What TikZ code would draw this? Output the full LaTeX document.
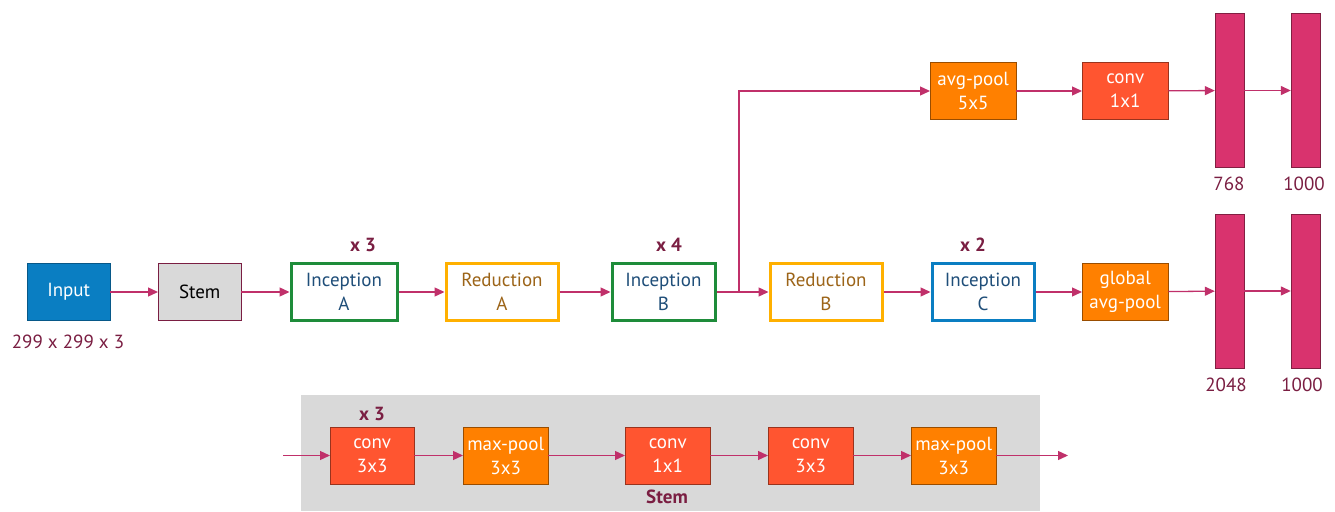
\documentclass[tikz,border=0pt]{standalone}
\usepackage{fontspec}
\setmainfont{PT Sans}
\usetikzlibrary{arrows.meta,positioning}
\definecolor{linkc}{HTML}{C0306A}
\definecolor{labc}{HTML}{7A1E42}
\definecolor{inblue}{HTML}{0A7EC2}
\definecolor{incgreen}{HTML}{1E8C3A}
\definecolor{redorange}{HTML}{FFB000}
\definecolor{inctext}{HTML}{1F4E79}
\definecolor{redtext}{HTML}{9C6418}
\definecolor{poolor}{HTML}{FF8000}
\definecolor{convred}{HTML}{FF5530}
\definecolor{barc}{HTML}{D9336E}
\definecolor{panel}{HTML}{D9D9D9}
\begin{document}
\begin{tikzpicture}[x=1pt,y=-1pt,
  txt/.style={font=\fontsize{19}{24}\selectfont},
  blk/.style={txt,minimum width=#1,minimum height=57pt,inner sep=0pt,align=center,anchor=west},
  inputbox/.style={blk=83pt,fill=inblue,draw=inblue!70!black,text=white},
  stembox/.style={blk=83pt,fill=panel,draw=labc,text=black},
  incbox/.style={blk=#1,draw=incgreen,line width=3pt,fill=white,text=inctext,minimum height=57pt},
  incc/.style={blk=#1,draw=inblue,line width=3pt,fill=white,text=inctext,minimum height=57pt},
  redbox/.style={blk=#1,draw=redorange,line width=3pt,fill=white,text=redtext,minimum height=57pt},
  poolbox/.style={blk=86pt,fill=poolor,draw=poolor!60!black,text=white},
  convbox/.style={blk=86pt,fill=convred,draw=convred!60!black,text=white},
  bar/.style={fill=barc,draw=barc!60!black,minimum width=29pt,minimum height=154pt,inner sep=0pt},
  lab/.style={txt,text=labc},
  rep/.style={font=\fontsize{19}{24}\selectfont\bfseries,text=labc},
  link/.style={draw=linkc,line width=1.3pt,-{Triangle[length=10pt,width=9pt]}}]
\useasboundingbox (0,0) rectangle (1335,511);

% stem panel background
\fill[panel] (301,395) rectangle (1040,511);

% main row
\node[inputbox] (inp) at (27,292) {Input};
\node[lab] (inplab) at (68,342) {299 x 299 x 3};
\node[stembox] (stem) at (158,292) {Stem};
\node[incbox=106pt] (ia) at (289.5,292) {Inception\\A};
\node[rep] (ra) at (363,245) {x 3};
\node[redbox=112pt] (rda) at (444.5,292) {Reduction\\A};
\node[incbox=103pt] (ib) at (610.5,292) {Inception\\B};
\node[rep] (rb) at (669,245) {x 4};
\node[redbox=112pt] (rdb) at (768.5,292) {Reduction\\B};
\node[incc=102pt] (ic) at (930.5,292) {Inception\\C};
\node[rep] (rc) at (973,245) {x 2};
\node[poolbox] (gap) at (1082,292) {global\\avg-pool};
\node[bar] (b1) at (1229.5,291) {};
\node[bar] (b2) at (1305.5,291) {};
\node[lab] (l1) at (1226,385) {2048};
\node[lab] (l2) at (1302,385) {1000};

% auxiliary head
\node[poolbox] (ap) at (930,91) {avg-pool\\5x5};
\node[convbox] (c11) at (1082,91) {conv\\1x1};
\node[bar] (a1) at (1229.5,90.5) {};
\node[bar] (a2) at (1305.5,90.5) {};
\node[lab] (al1) at (1229,184) {768};
\node[lab] (al2) at (1304,184) {1000};

\coordinate (br) at (739,292);

\draw[link] (inp) -- (stem);
\draw[link] (stem) -- (ia);
\draw[link] (ia) -- (rda);
\draw[link] (rda) -- (ib);
\draw[link] (ib) -- (rdb);
\draw[link] (rdb) -- (ic);
\draw[link] (ic) -- (gap);
\draw[link] (gap) -- (b1);
\draw[link] (b1) -- (b2);
\draw[link] (br) |- (ap);
\draw[link] (ap) -- (c11);
\draw[link] (c11) -- (a1);
\draw[link] (a1) -- (a2);

% stem detail
\node[convbox,minimum width=84pt] (s1) at (330,455.5) {conv\\3x3};
\node[rep] (sr) at (372,414) {x 3};
\node[poolbox,minimum width=85pt] (s2) at (463,455.5) {max-pool\\3x3};
\node[convbox,minimum width=85pt] (s3) at (625,455.5) {conv\\1x1};
\node[convbox,minimum width=85pt] (s4) at (768,455.5) {conv\\3x3};
\node[poolbox,minimum width=85pt] (s5) at (911,455.5) {max-pool\\3x3};
\node[rep] (stl) at (667,497) {Stem};
\coordinate (sin) at (283,455.5);
\coordinate (sout) at (1068,455.5);
\draw[link] (sin) -- (s1);
\draw[link] (s1) -- (s2);
\draw[link] (s2) -- (s3);
\draw[link] (s3) -- (s4);
\draw[link] (s4) -- (s5);
\draw[link] (s5) -- (sout);
\end{tikzpicture}
\end{document}
